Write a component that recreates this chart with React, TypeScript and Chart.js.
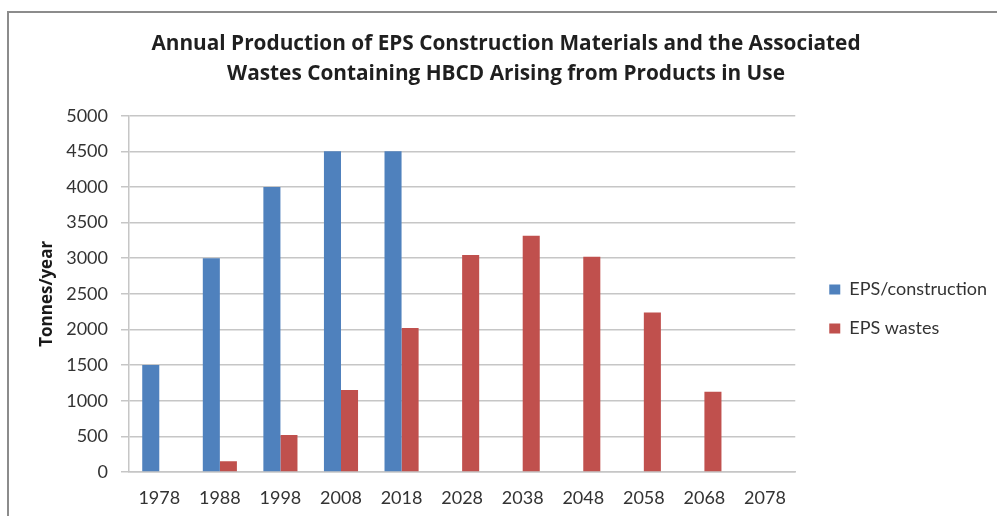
import React, { useEffect, useRef } from "react";
import { Chart, registerables } from "chart.js";

Chart.register(...registerables);

const categories = ["1978", "1988", "1998", "2008", "2018", "2028", "2038", "2048", "2058", "2068", "2078"];
const constructionValues = [1500, 3000, 4000, 4500, 4500, null, null, null, null, null, null];
const wastesValues = [null, 150, 520, 1150, 2020, 3045, 3315, 3020, 2240, 1125, null];
const seriesNames = ["EPS/construction", "EPS wastes"];
const seriesColors = ["#4F81BD", "#C0504D"];
const titleLines = [
  "Annual Production of EPS Construction Materials and the Associated",
  "Wastes Containing HBCD Arising from Products in Use",
];
const yAxisTitle = "Tonnes/year";
const yMin = 0;
const yMax = 5000;
const yStep = 500;

const FONT = "Lato, 'Open Sans', 'DejaVu Sans', sans-serif";
const BOLD_FONT = "'Open Sans', Lato, 'DejaVu Sans', sans-serif";

export default function App() {
  const ref = useRef<HTMLCanvasElement | null>(null);

  useEffect(() => {
    const canvas = ref.current;
    if (!canvas) return;
    const chart = new Chart(canvas, {
      type: "bar",
      data: {
        labels: categories,
        datasets: [
          {
            label: seriesNames[0],
            data: constructionValues,
            backgroundColor: seriesColors[0],
            borderWidth: 0,
            categoryPercentage: 0.563,
            barPercentage: 1,
          },
          {
            label: seriesNames[1],
            data: wastesValues,
            backgroundColor: seriesColors[1],
            borderWidth: 0,
            categoryPercentage: 0.563,
            barPercentage: 1,
          },
        ],
      },
      options: {
        animation: false,
        responsive: false,
        devicePixelRatio: 1,
        layout: { padding: { left: 15, right: 0, top: 0, bottom: 0 } },
        plugins: {
          title: {
            display: true,
            text: titleLines,
            color: "#1f1f1f",
            font: { family: BOLD_FONT, size: 20.8, weight: "bold", lineHeight: "30px" },
            padding: { top: 29, bottom: 26.7 },
          },
          legend: {
            display: true,
            position: "right",
            fullSize: false,
            maxWidth: 204,
            title: {
              display: true,
              text: "",
              font: { size: 10, lineHeight: "7.3px" },
              padding: { top: 10, bottom: 0 },
            },
            labels: {
              boxWidth: 11,
              boxHeight: 10,
              padding: 34,
              color: "#333333",
              font: { family: FONT, size: 18, lineHeight: "5px" },
              generateLabels: (c: any) =>
                Chart.defaults.plugins.legend.labels
                  .generateLabels(c)
                  .map((l: any) => ({ ...l, text: [l.text], lineWidth: 0 })),
            },
          },
          tooltip: { enabled: false },
        },
        scales: {
          x: {
            grid: { display: false, drawTicks: false },
            border: { display: true, color: "#c6c6c6", width: 1.5 },
            ticks: {
              color: "#333333",
              padding: 15,
              maxRotation: 0,
              autoSkip: false,
              font: { family: FONT, size: 18 },
            },
            afterFit: (scale: any) => {
              scale.height = 44;
            },
          },
          y: {
            min: yMin,
            max: yMax,
            grid: { color: "#c6c6c6", lineWidth: 1.5, tickLength: 8, drawTicks: true },
            border: { display: true, color: "#c6c6c6", width: 1.5 },
            ticks: {
              stepSize: yStep,
              color: "#333333",
              padding: 13,
              font: { family: FONT, size: 18 },
              callback: (v: any) => String(v),
            },
            title: {
              display: true,
              text: yAxisTitle,
              color: "#1a1a1a",
              font: { family: BOLD_FONT, size: 17, weight: "bold", lineHeight: 1.2 },
              padding: { top: 22.3, bottom: 0 },
            },
            afterFit: (scale: any) => {
              scale.width = 114;
            },
          },
        },
      },
    });
    return () => chart.destroy();
  }, []);

  return (
    <div style={{ position: "fixed", left: 0, top: 0, width: 997, height: 516, overflow: "hidden", background: "#fff" }}>
      <div
        style={{
          position: "absolute",
          left: 7,
          top: 11,
          width: 1100,
          height: 700,
          borderTop: "2px solid #8c8c8c",
          borderLeft: "2px solid #8c8c8c",
        }}
      />
      <canvas ref={ref} width={997} height={516} style={{ position: "absolute", left: 0, top: 0, width: 997, height: 516, display: "block" }} />
    </div>
  );
}
